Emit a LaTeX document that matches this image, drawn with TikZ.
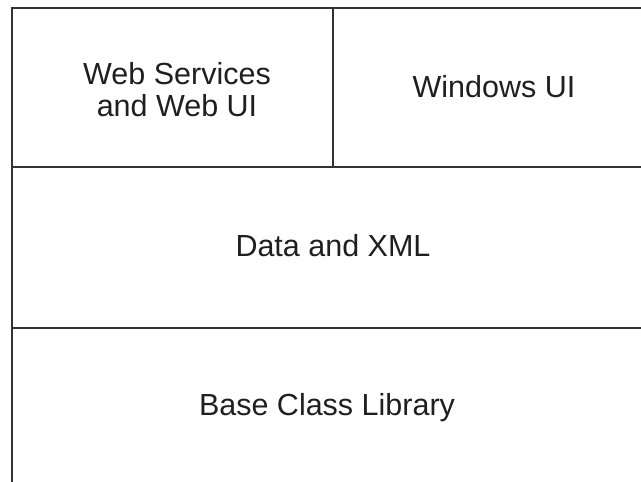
\documentclass[tikz,border=0pt]{standalone}
\usepackage{fontspec}
\setmainfont{Liberation Sans}
\begin{document}
\begin{tikzpicture}[x=1pt,y=1pt,
  rule/.style={draw=black!80, line width=1.4pt},
  lbl/.style={font=\fontsize{30.5}{32}\selectfont, text=black!88, align=center, inner sep=0pt}]
\useasboundingbox (0,0) rectangle (641,482);
% lines
\coordinate (tl) at (12,474);
\coordinate (tr) at (641,474);
\coordinate (bl) at (12,0);
\coordinate (m1l) at (12,315);
\coordinate (m1r) at (641,315);
\coordinate (m2l) at (12,154);
\coordinate (m2r) at (641,154);
\coordinate (dt) at (333,474);
\coordinate (db) at (333,315);
\draw[rule] (tr) -- (tl) -- (bl);
\draw[rule] (m1l) -- (m1r);
\draw[rule] (m2l) -- (m2r);
\draw[rule] (dt) -- (db);
% labels
\node[lbl] (web) at (177,392) {Web Services\\and Web UI};
\node[lbl] (win) at (494,395) {Windows UI};
\node[lbl] (data) at (333,236) {Data and XML};
\node[lbl] (base) at (327,74) {Base Class Library};
\end{tikzpicture}
\end{document}
